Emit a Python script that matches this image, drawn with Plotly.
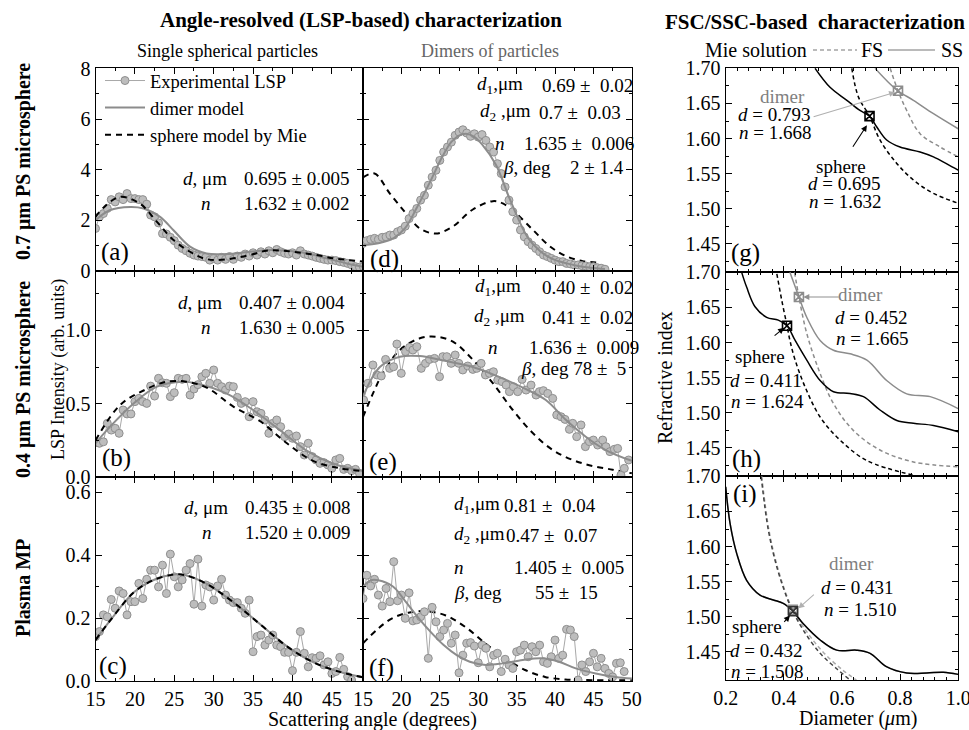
import plotly.graph_objects as go

FONT = "Liberation Serif"
W, H = 969, 730

# ---------------- data ----------------
ANGLES = [15.0, 15.5, 16.0, 16.5, 17.0, 17.5, 18.0, 18.5, 19.0, 19.5, 20.0, 20.5, 21.0, 21.5,
          22.0, 22.5, 23.0, 23.5, 24.0, 24.5, 25.0, 25.5, 26.0, 26.5, 27.0, 27.5, 28.0, 28.5,
          29.0, 29.5, 30.0, 30.5, 31.0, 31.5, 32.0, 32.5, 33.0, 33.5, 34.0, 34.5, 35.0, 35.5,
          36.0, 36.5, 37.0, 37.5, 38.0, 38.5, 39.0, 39.5, 40.0, 40.5, 41.0, 41.5, 42.0, 42.5,
          43.0, 43.5, 44.0, 44.5, 45.0, 45.5, 46.0, 46.5, 47.0, 47.5, 48.0, 48.5, 49.0]

# (a) 0.7 um PS, single sphere
A_EXP = [1.68, 2.14, 2.27, 2.47, 2.82, 2.73, 2.93, 2.82, 3.06, 2.86, 2.86, 2.82, 2.82, 2.64,
         2.21, 2.14, 1.90, 1.48, 1.46, 1.33, 1.20, 1.02, 0.89, 0.80, 0.70, 0.63, 0.59, 0.57,
         0.54, 0.43, 0.50, 0.43, 0.54, 0.46, 0.57, 0.46, 0.59, 0.54, 0.67, 0.59, 0.72, 0.63,
         0.76, 0.67, 0.80, 0.72, 0.85, 0.76, 0.70, 0.67, 0.72, 0.63, 0.80, 0.67, 0.63, 0.59,
         0.54, 0.50, 0.46, 0.43, 0.43, 0.41, 0.37, 0.34, 0.30, 0.24, 0.17, 0.15, 0.17]
A_DIM_X = [15.0, 16.8, 19.4, 21.1, 23.2, 24.9, 27.0, 29.1, 31.6, 34.6, 37.2, 39.3, 41.8, 44.3, 46.9, 48.95]
A_DIM_Y = [2.00, 2.40, 2.53, 2.47, 2.14, 1.61, 0.96, 0.69, 0.67, 0.76, 0.83, 0.80, 0.70, 0.50, 0.30, 0.17]
A_MIE_X = [15.0, 16.0, 18.1, 20.6, 22.8, 24.9, 27.0, 28.7, 30.4, 32.5, 34.6, 36.7, 38.8, 41.0, 43.1, 45.2, 47.3, 48.95]
A_MIE_Y = [2.14, 2.50, 2.93, 2.67, 1.94, 1.22, 0.76, 0.50, 0.43, 0.50, 0.63, 0.80, 0.80, 0.72, 0.63, 0.50, 0.43, 0.37]

# (b) 0.4 um PS, single sphere
B_EXP = [0.234, 0.23, 0.24, 0.366, 0.32, 0.332, 0.298, 0.457, 0.43, 0.43, 0.514, 0.536, 0.514,
         0.502, 0.62, 0.552, 0.673, 0.643, 0.639, 0.548, 0.575, 0.673, 0.666, 0.673, 0.559,
         0.60, 0.63, 0.684, 0.707, 0.639, 0.730, 0.639, 0.616, 0.593, 0.62, 0.616, 0.543,
         0.502, 0.514, 0.411, 0.514, 0.445, 0.434, 0.389, 0.298, 0.366, 0.389, 0.343, 0.275,
         0.293, 0.264, 0.28, 0.207, 0.150, 0.23, 0.139, 0.116, 0.093, 0.098, 0.082, 0.059,
         0.116, 0.127, 0.052, 0.059, 0.043, 0.052, 0.025]
B_DIM_X = [15.0, 16.8, 19.8, 22.8, 26.1, 27.7, 31.6, 35.0, 38.4, 41.8, 45.2, 48.95]
B_DIM_Y = [0.23, 0.34, 0.50, 0.616, 0.65, 0.64, 0.57, 0.457, 0.32, 0.18, 0.09, 0.04]
B_MIE_X = [15.0, 18.1, 21.1, 24.0, 26.5, 29.1, 32.5, 35.9, 39.3, 42.6, 46.0, 48.95]
B_MIE_Y = [0.25, 0.49, 0.59, 0.65, 0.65, 0.61, 0.48, 0.38, 0.23, 0.11, 0.06, 0.04]

# (c) plasma MP, single sphere
C_EXP = [0.141, 0.157, 0.210, 0.204, 0.259, 0.231, 0.286, 0.278, 0.210, 0.252, 0.252, 0.310,
         0.262, 0.323, 0.352, 0.352, 0.299, 0.368, 0.278, 0.403, 0.331, 0.299, 0.321, 0.352,
         0.373, 0.244, 0.387, 0.238, 0.305, 0.299, 0.257, 0.302, 0.323, 0.273, 0.257, 0.249,
         0.249, 0.231, 0.215, 0.257, 0.093, 0.141, 0.146, 0.114, 0.130, 0.146, 0.114, 0.109,
         0.091, 0.091, 0.033, 0.091, 0.157, 0.088, 0.045, 0.074, 0.072, 0.080, 0.051, 0.061,
         0.024, 0.030, 0.075, 0.037, 0.014, 0.003]
C_MOD_X = [15.0, 16.8, 19.8, 22.3, 24.9, 26.4, 29.0, 32.5, 35.9, 39.3, 42.6, 46.0, 48.95]
C_MOD_Y = [0.13, 0.19, 0.28, 0.32, 0.338, 0.336, 0.31, 0.25, 0.18, 0.11, 0.06, 0.029, 0.012]

# (d) 0.7 um PS, dimer
D_EXP = [1.09, 1.20, 1.25, 1.29, 1.25, 1.33, 1.35, 1.42, 1.42, 1.55, 1.62, 1.77, 2.07, 2.27,
         2.47, 2.80, 2.99, 3.39, 3.71, 3.98, 4.37, 4.70, 4.90, 5.09, 5.36, 5.49, 5.58, 5.45,
         5.32, 5.42, 5.29, 5.39, 5.16, 4.90, 4.70, 4.24, 3.85, 3.32, 2.80, 2.34, 2.01, 1.62,
         1.35, 1.16, 1.02, 0.89, 0.76, 0.63, 0.57, 0.50, 0.43, 0.37, 0.37, 0.30, 0.28, 0.24,
         0.24, 0.21, 0.20, 0.17, 0.17, 0.13, 0.11, 0.07]
D_DIM_X = [15.0, 17.0, 19.0, 20.5, 22.0, 23.7, 25.3, 26.5, 27.5, 28.4, 29.5, 30.5, 32.3, 33.9,
           35.3, 36.5, 38.0, 39.5, 41.5, 43.0, 45.0, 46.5]
D_DIM_Y = [1.03, 1.10, 1.30, 1.70, 2.50, 3.50, 4.50, 5.10, 5.35, 5.42, 5.30, 5.00, 4.20, 3.00,
           2.00, 1.30, 0.80, 0.50, 0.30, 0.20, 0.12, 0.08]
D_MIE_X = [15.0, 16.5, 18.5, 20.6, 22.4, 24.5, 26.7, 29.3, 31.9, 33.2, 34.9, 37.1, 39.3, 41.4, 43.6, 45.8]
D_MIE_Y = [3.70, 3.85, 3.06, 2.28, 1.68, 1.48, 1.76, 2.43, 2.76, 2.67, 2.28, 1.63, 0.98, 0.59, 0.39, 0.33]

# (e) 0.4 um PS, dimer
E_ANG = [15.08, 15.64, 16.29, 16.81, 17.38, 17.94, 18.46, 18.98, 19.41, 19.98, 20.54, 21.06,
         21.49, 22.01, 22.58, 23.14, 23.66, 24.31, 24.96, 25.39, 25.91, 26.48, 27.00, 27.47,
         27.99, 28.64, 29.30, 29.81, 30.38, 30.94, 31.46, 31.98, 32.54, 33.11, 33.63, 34.06,
         34.58, 35.14, 35.71, 36.23, 36.88, 37.53, 37.96, 38.48, 39.05, 39.70, 40.22, 40.78,
         41.30, 41.87, 42.30, 42.82, 43.38, 43.95, 44.47, 44.99, 45.55, 46.20, 46.63, 47.15,
         47.72, 48.15, 48.58, 49.02, 49.58]
E_EXP = [0.525, 0.639, 0.764, 0.696, 0.689, 0.802, 0.741, 0.752, 0.907, 0.707, 0.855, 0.884,
         0.866, 0.889, 0.741, 0.775, 0.802, 0.809, 0.684, 0.821, 0.821, 0.775, 0.832, 0.775,
         0.730, 0.757, 0.734, 0.741, 0.775, 0.696, 0.707, 0.718, 0.661, 0.650, 0.627, 0.582,
         0.616, 0.582, 0.666, 0.593, 0.627, 0.559, 0.582, 0.589, 0.570, 0.536, 0.423, 0.411,
         0.393, 0.325, 0.366, 0.275, 0.355, 0.207, 0.241, 0.252, 0.218, 0.252, 0.207, 0.173,
         0.189, 0.195, 0.013, 0.059, 0.116]
E_DIM_X = [15.0, 17.2, 19.8, 22.4, 25.0, 29.3, 31.9, 35.8, 38.8, 41.4, 44.0, 46.6, 50.0]
E_DIM_Y = [0.55, 0.75, 0.82, 0.825, 0.80, 0.75, 0.70, 0.61, 0.525, 0.39, 0.275, 0.184, 0.11]
E_MIE_X = [15.0, 16.3, 17.6, 19.8, 22.4, 24.5, 26.7, 29.3, 31.9, 34.5, 37.1, 39.7, 42.3, 44.9, 47.5, 50.0]
E_MIE_Y = [0.41, 0.57, 0.71, 0.866, 0.946, 0.957, 0.923, 0.80, 0.64, 0.457, 0.30, 0.184, 0.116, 0.075, 0.05, 0.025]

# (f) plasma MP, dimer
F_EXP = [0.262, 0.336, 0.302, 0.323, 0.273, 0.238, 0.294, 0.252, 0.379, 0.255, 0.273, 0.199,
         0.280, 0.191, 0.194, 0.204, 0.220, 0.072, 0.234, 0.188, 0.141, 0.162, 0.183, 0.120,
         0.146, 0.026, 0.082, 0.120, 0.122, 0.111, 0.058, 0.114, 0.104, 0.045, 0.082, 0.088,
         0.030, 0.069, 0.051, 0.040, 0.093, 0.098, 0.114, 0.077, 0.109, 0.093, 0.114, 0.061,
         0.056, 0.077, 0.130, 0.072, 0.082, 0.164, 0.162, 0.141, 0.003, 0.051, 0.030, 0.061,
         0.088, 0.045, 0.072, 0.040, 0.024, 0.013, 0.056, 0.058, 0.030]
F_DIM_X = [15.0, 16.0, 17.0, 18.9, 20.4, 22.1, 23.8, 25.5, 27.2, 28.9, 31.0, 33.2, 35.8, 38.3,
           40.5, 42.7, 45.3, 47.9, 50.0]
F_DIM_Y = [0.299, 0.32, 0.32, 0.30, 0.257, 0.204, 0.156, 0.114, 0.082, 0.061, 0.051, 0.056,
           0.067, 0.072, 0.061, 0.040, 0.024, 0.013, 0.008]
F_MIE_X = [15.0, 17.0, 18.8, 20.9, 23.1, 25.7, 28.3, 30.9, 33.5, 36.1, 38.7, 41.3, 43.9, 50.0]
F_MIE_Y = [0.120, 0.167, 0.199, 0.217, 0.222, 0.209, 0.172, 0.120, 0.072, 0.035, 0.013, 0.005, 0.003, 0.002]

# (g) FSC/SSC 0.7 um
G_SPH_SS_D = [0.5075, 0.559, 0.617, 0.662, 0.695, 0.720, 0.754, 0.800, 0.869, 0.915, 0.961, 1.0]
G_SPH_SS_N = [1.700, 1.673, 1.6545, 1.640, 1.632, 1.6165, 1.598, 1.588, 1.581, 1.574, 1.564, 1.555]
G_SPH_FS_D = [0.634, 0.657, 0.695, 0.731, 0.788, 0.846, 0.915, 1.0]
G_SPH_FS_N = [1.700, 1.659, 1.632, 1.598, 1.565, 1.541, 1.522, 1.508]
G_DIM_SS_D = [0.714, 0.753, 0.793, 0.846, 0.915, 1.0]
G_DIM_SS_N = [1.700, 1.683, 1.668, 1.6545, 1.6355, 1.614]
G_DIM_FS_D = [0.766, 0.793, 0.823, 0.869, 0.938, 1.0]
G_DIM_FS_N = [1.700, 1.668, 1.640, 1.607, 1.588, 1.574]
G_SPH_PT = (0.695, 1.632)
G_DIM_PT = (0.793, 1.668)

# (h) FSC/SSC 0.4 um
H_SPH_SS_D = [0.255, 0.272, 0.301, 0.341, 0.381, 0.411, 0.439, 0.479, 0.525, 0.571, 0.628,
              0.674, 0.731, 0.789, 0.846, 0.915, 1.0]
H_SPH_SS_N = [1.700, 1.679, 1.651, 1.636, 1.632, 1.624, 1.603, 1.575, 1.546, 1.530, 1.5275,
              1.523, 1.504, 1.489, 1.485, 1.482, 1.473]
H_SPH_FS_D = [0.376, 0.393, 0.411, 0.421, 0.439, 0.473, 0.525, 0.594, 0.686, 0.846]
H_SPH_FS_N = [1.698, 1.660, 1.624, 1.603, 1.575, 1.537, 1.494, 1.461, 1.432, 1.411]
H_DIM_SS_D = [0.421, 0.452, 0.479, 0.525, 0.571, 0.628, 0.686, 0.754, 0.823, 0.904, 1.0]
H_DIM_SS_N = [1.700, 1.665, 1.636, 1.603, 1.589, 1.584, 1.575, 1.546, 1.527, 1.523, 1.506]
H_DIM_FS_D = [0.437, 0.452, 0.479, 0.525, 0.571, 0.639, 0.731, 0.846, 1.0]
H_DIM_FS_N = [1.700, 1.665, 1.613, 1.556, 1.513, 1.475, 1.447, 1.430, 1.423]
H_SPH_PT = (0.411, 1.624)
H_DIM_PT = (0.452, 1.665)

# (i) FSC/SSC plasma MP
I_SS_D = [0.2, 0.215, 0.238, 0.272, 0.318, 0.364, 0.398, 0.431, 0.467, 0.525, 0.582, 0.651,
          0.697, 0.753, 0.823, 0.892, 0.949, 1.0]
I_SS_N = [1.685, 1.633, 1.590, 1.552, 1.531, 1.524, 1.519, 1.508, 1.490, 1.467, 1.4525,
          1.4525, 1.448, 1.429, 1.420, 1.420, 1.421, 1.418]
I_SPH_FS_D = [0.322, 0.347, 0.376, 0.410, 0.431, 0.467, 0.525, 0.582, 0.628]
I_SPH_FS_N = [1.700, 1.623, 1.571, 1.528, 1.508, 1.481, 1.448, 1.426, 1.410]
I_DIM_FS_D = [0.324, 0.349, 0.378, 0.411, 0.431, 0.470, 0.530, 0.600, 0.650]
I_DIM_FS_N = [1.700, 1.623, 1.571, 1.529, 1.510, 1.484, 1.452, 1.425, 1.410]
I_SPH_PT = (0.432, 1.508)
I_DIM_PT = (0.431, 1.510)

# ---------------- styling ----------------
GRAY = "#8c8c8c"
MK_FILL = "#bdbdbd"
MK_LINE = "#8f8f8f"
CONN = "#a8a8a8"


def px(x):
    return x / W


def py(y):
    return 1 - y / H


fig = go.Figure()


def add_exp(xs, ys, ax, legend=False):
    n = min(len(xs), len(ys))
    fig.add_trace(go.Scatter(
        x=xs[:n], y=ys[:n], mode="lines+markers", name="Experimental LSP",
        showlegend=legend, xaxis="x" + ax, yaxis="y" + ax,
        line=dict(color=CONN, width=1),
        marker=dict(symbol="circle", size=8, color=MK_FILL, line=dict(color=MK_LINE, width=1))))


def add_dim(xs, ys, ax, legend=False):
    fig.add_trace(go.Scatter(
        x=xs, y=ys, mode="lines", name="dimer model", showlegend=legend,
        xaxis="x" + ax, yaxis="y" + ax, line=dict(color=GRAY, width=2, shape="spline")))


def add_mie(xs, ys, ax, legend=False):
    fig.add_trace(go.Scatter(
        x=xs, y=ys, mode="lines", name="sphere model by Mie", showlegend=legend,
        xaxis="x" + ax, yaxis="y" + ax,
        line=dict(color="black", width=2, dash="6px,5px", shape="spline")))


# (a)
add_exp(ANGLES, A_EXP, "", True)
add_dim(A_DIM_X, A_DIM_Y, "", True)
add_mie(A_MIE_X, A_MIE_Y, "", True)
# (b)
add_exp(ANGLES, B_EXP, "2")
add_dim(B_DIM_X, B_DIM_Y, "2")
add_mie(B_MIE_X, B_MIE_Y, "2")
# (c)
add_exp(ANGLES, C_EXP, "3")
add_dim(C_MOD_X, C_MOD_Y, "3")
add_mie(C_MOD_X, C_MOD_Y, "3")
# (d)
add_mie(D_MIE_X, D_MIE_Y, "4")
add_exp(ANGLES, D_EXP, "4")
add_dim(D_DIM_X, D_DIM_Y, "4")
# (e)
add_mie(E_MIE_X, E_MIE_Y, "5")
add_exp(E_ANG, E_EXP, "5")
add_dim(E_DIM_X, E_DIM_Y, "5")
# (f)
add_mie(F_MIE_X, F_MIE_Y, "6")
add_exp(ANGLES, F_EXP, "6")
add_dim(F_DIM_X, F_DIM_Y, "6")


def rline(xs, ys, ax, color, dashed):
    fig.add_trace(go.Scatter(
        x=xs, y=ys, mode="lines", showlegend=False, xaxis="x" + ax, yaxis="y" + ax,
        line=dict(color=color, width=1.5, dash="4px,3px" if dashed else "solid", shape="spline")))


def rpt(pt, ax, color):
    fig.add_trace(go.Scatter(
        x=[pt[0]], y=[pt[1]], mode="markers", showlegend=False, xaxis="x" + ax, yaxis="y" + ax,
        marker=dict(symbol="square-x-open", size=9, color=color, line=dict(color=color, width=1.6))))


# (g)
rline(G_DIM_FS_D, G_DIM_FS_N, "7", GRAY, True)
rline(G_DIM_SS_D, G_DIM_SS_N, "7", GRAY, False)
rline(G_SPH_FS_D, G_SPH_FS_N, "7", "black", True)
rline(G_SPH_SS_D, G_SPH_SS_N, "7", "black", False)
rpt(G_DIM_PT, "7", GRAY)
rpt(G_SPH_PT, "7", "black")
# (h)
rline(H_DIM_FS_D, H_DIM_FS_N, "8", GRAY, True)
rline(H_DIM_SS_D, H_DIM_SS_N, "8", GRAY, False)
rline(H_SPH_FS_D, H_SPH_FS_N, "8", "black", True)
rline(H_SPH_SS_D, H_SPH_SS_N, "8", "black", False)
rpt(H_DIM_PT, "8", GRAY)
rpt(H_SPH_PT, "8", "black")
# (i)
rline(I_DIM_FS_D, I_DIM_FS_N, "9", "#aaaaaa", True)
rline(I_SPH_FS_D, I_SPH_FS_N, "9", "#444444", True)
rline(I_SS_D, I_SS_N, "9", "#aaaaaa", False)
rline(I_SS_D, I_SS_N, "9", "black", False)
rpt(I_DIM_PT, "9", GRAY)
rpt(I_SPH_PT, "9", "#333333")

# ---------------- axes ----------------
XL = [95.5 / W, 363 / W]
XM = [363 / W, 632 / W]
XR = [725.7 / W, 958.3 / W]
R1 = [py(271), py(68)]
R2 = [py(477), py(271)]
R3 = [py(681), py(477)]
RG = [py(272), py(68)]
RH = [py(476), py(272)]
RI = [py(680), py(476)]


def axis(domain, rng, dtick, tick0, minor, labels, anchor, fmt=None):
    d = dict(domain=domain, range=rng, anchor=anchor, showline=True, linecolor="black",
             linewidth=1.2, mirror="allticks", ticks="inside", ticklen=6, tickwidth=1,
             tickcolor="black", dtick=dtick, tick0=tick0,
             minor=dict(dtick=minor, tick0=tick0, ticklen=3, ticks="inside", tickcolor="black", tickwidth=1),
             showticklabels=labels, showgrid=False, zeroline=False, automargin=False,
             ticklabeloverflow="allow",
             tickfont=dict(size=20, family=FONT, color="black"), ticklabelstandoff=0)
    if fmt:
        d["tickformat"] = fmt
    return d


LX = [15, 48.95]
MX = [15, 50.02]
RX = [0.2, 1.0005]
RY = [1.41, 1.7005]

layout_axes = dict(
    xaxis=axis(XL, LX, 5, 15, 2.5, False, "y"),
    yaxis=axis(R1, [0, 8.02], 2, 0, 1, True, "x"),
    xaxis2=axis(XL, LX, 5, 15, 2.5, False, "y2"),
    yaxis2=axis(R2, [0, 1.405], 0.5, 0, 0.25, True, "x2", ".1f"),
    xaxis3=axis(XL, LX, 5, 15, 2.5, True, "y3"),
    yaxis3=axis(R3, [0, 0.648], 0.2, 0, 0.1, True, "x3", ".1f"),
    xaxis4=axis(XM, MX, 5, 15, 2.5, False, "y4"),
    yaxis4=axis(R1, [0, 8.02], 2, 0, 1, False, "x4"),
    xaxis5=axis(XM, MX, 5, 15, 2.5, False, "y5"),
    yaxis5=axis(R2, [0, 1.405], 0.5, 0, 0.25, False, "x5"),
    xaxis6=axis(XM, MX, 5, 15, 2.5, True, "y6"),
    yaxis6=axis(R3, [0, 0.648], 0.2, 0, 0.1, False, "x6"),
    xaxis7=axis(XR, RX, 0.2, 0.2, 0.04, False, "y7"),
    yaxis7=axis(RG, RY, 0.05, 1.45, 0.025, True, "x7", ".2f"),
    xaxis8=axis(XR, RX, 0.2, 0.2, 0.04, False, "y8"),
    yaxis8=axis(RH, RY, 0.05, 1.45, 0.025, True, "x8", ".2f"),
    xaxis9=axis(XR, RX, 0.2, 0.2, 0.04, True, "y9", ".1f"),
    yaxis9=axis(RI, RY, 0.05, 1.45, 0.025, True, "x9", ".2f"),
)

# ---------------- annotations ----------------
ann = []


def txt(x, y, s, size=19, color="black", xanchor="center", bold=False, angle=0):
    if bold:
        s = "<b>" + s + "</b>"
    ann.append(dict(x=px(x), y=py(y), xref="paper", yref="paper", text=s, showarrow=False,
                    xanchor=xanchor, yanchor="middle", textangle=angle,
                    font=dict(family=FONT, size=size, color=color)))


# titles
txt(361, 20, "Angle-resolved (LSP-based) characterization", 21, bold=True)
txt(815, 22, "FSC/SSC-based\u00a0 characterization", 21, bold=True)
txt(227, 51, "Single spherical particles", 18)
txt(490, 51, "Dimers of particles", 18, color="#666666")
txt(756, 50, "Mie solution", 20)
txt(872, 50, "FS", 20)
txt(952, 50, "SS", 20)
# row labels and axis titles
txt(24, 162, "0.7 μm PS microsphere", 20, bold=True, angle=-90)
txt(23, 380, "0.4 μm PS microsphere", 20, bold=True, angle=-90)
txt(23, 588, "Plasma MP", 20, bold=True, angle=-90)
txt(58, 370, "LSP Intensity (arb. units)", 18, angle=-90)
txt(665, 378, "Refractive index", 20, angle=-90)
txt(372, 719, "Scattering angle (degrees)", 20)
txt(858, 718, "Diameter (<i>μ</i>m)", 20)
# panel letters
for lab, (x, y) in zip(["(a)", "(b)", "(c)", "(d)", "(e)", "(f)", "(g)", "(h)", "(i)"],
                       [(115, 252), (116, 458), (113, 666), (384, 259), (383, 462), (381, 668),
                        (745, 253), (746, 459), (745, 494)]):
    txt(x, y, lab, 25)

# parameters, single sphere panels
txt(205, 178, "<i>d</i>, μm")
txt(242, 178, "0.695 ± 0.005", xanchor="left")
txt(206, 203, "<i>n</i>")
txt(242, 203, "1.632 ± 0.002", xanchor="left")
txt(200, 302, "<i>d</i>, μm")
txt(237, 302, "0.407 ± 0.004", xanchor="left")
txt(206, 328, "<i>n</i>")
txt(237, 328, "1.630 ± 0.005", xanchor="left")
txt(206, 507, "<i>d</i>, μm")
txt(243, 507, "0.435 ± 0.008", xanchor="left")
txt(207, 532, "<i>n</i>")
txt(243, 532, "1.520 ± 0.009", xanchor="left")
# parameters, dimer panels
txt(525, 85, "<i>d</i><sub>1</sub>,μm", xanchor="right")
txt(540, 85, "0.69 ±\u00a0 0.02", xanchor="left")
txt(533, 112, "<i>d</i><sub>2</sub> ,μm", xanchor="right")
txt(537, 112, "0.7 ±\u00a0 0.03", xanchor="left")
txt(500, 143, "<i>n</i>")
txt(522, 143, "1.635 ±\u00a0 0.006", xanchor="left")
txt(553, 168, "<i>β</i>, deg", xanchor="right")
txt(568, 168, "2 ± 1.4", xanchor="left")

txt(523, 287, "<i>d</i><sub>1</sub>,μm", xanchor="right")
txt(540, 287, "0.40 ±\u00a0 0.02", xanchor="left")
txt(527, 317, "<i>d</i><sub>2</sub> ,μm", xanchor="right")
txt(540, 317, "0.41 ±\u00a0 0.02", xanchor="left")
txt(493, 347, "<i>n</i>")
txt(527, 347, "1.636 ±\u00a0 0.009", xanchor="left")
txt(628, 368, "<i>β</i>, deg 78 ±\u00a0 5", xanchor="right")

txt(452, 505, "<i>d</i><sub>1</sub>,μm", xanchor="left")
txt(502, 505, "0.81 ±\u00a0 0.04", xanchor="left")
txt(452, 535, "<i>d</i><sub>2</sub> ,μm", xanchor="left")
txt(504, 535, "0.47 ±\u00a0 0.07", xanchor="left")
txt(452, 567, "<i>n</i>", xanchor="left")
txt(512, 567, "1.405 ±\u00a0 0.005", xanchor="left")
txt(452, 592, "<i>β</i>, deg", xanchor="left")
txt(533, 592, "55 ±\u00a0 15", xanchor="left")

# right column texts
DG = "#808080"
txt(782, 97, "dimer", color=DG)
txt(774, 115, "<i>d</i> = 0.793")
txt(775, 133, "<i>n</i> = 1.668")
txt(841, 166, "sphere")
txt(844, 183, "<i>d</i> = 0.695")
txt(845, 202, "<i>n</i> = 1.632")

txt(860, 294, "dimer", color=DG)
txt(871, 317, "<i>d</i> = 0.452")
txt(872, 338, "<i>n</i> = 1.665")
txt(760, 356, "sphere")
txt(766, 380, "<i>d</i> = 0.411")
txt(767, 401, "<i>n</i> = 1.624")

txt(851, 563, "dimer", color=DG)
txt(857, 587, "<i>d</i> = 0.431")
txt(860, 609, "<i>n</i> = 1.510")
txt(757, 626, "sphere")
txt(766, 650, "<i>d</i> = 0.432")
txt(767, 671, "<i>n</i> = 1.508")


def arrow(ax, x, y, tx, ty, color):
    ann.append(dict(x=x, y=y, xref="x" + ax, yref="y" + ax, ax=tx, ay=ty, text="",
                    showarrow=True, arrowhead=2, arrowsize=1.1, arrowwidth=1.1, arrowcolor=color))


arrow("7", 0.783, 1.666, -83, 25, "#b0b0b0")
arrow("7", 0.686, 1.619, -15, 23, "black")
arrow("8", 0.467, 1.665, 37, 0, "#909090")
arrow("8", 0.401, 1.621, -11, 9, "black")
arrow("9", 0.450, 1.512, 17, -15, "#b0b0b0")
arrow("9", 0.421, 1.502, -7, 8, "black")

shapes = [
    dict(type="line", xref="paper", yref="paper", x0=px(813), x1=px(857), y0=py(50), y1=py(50),
         line=dict(color="#777777", width=1.2, dash="4px,3px")),
    dict(type="line", xref="paper", yref="paper", x0=px(888), x1=px(935), y0=py(50), y1=py(50),
         line=dict(color="#777777", width=1.2)),
]

fig.update_layout(
    width=W, height=H, margin=dict(l=0, r=0, t=0, b=0, pad=0, autoexpand=False),
    paper_bgcolor="white", plot_bgcolor="white",
    font=dict(family=FONT, color="black"),
    showlegend=True,
    legend=dict(x=px(100), y=py(62), xanchor="left", yanchor="top",
                font=dict(family=FONT, size=18.5, color="black"),
                bgcolor="rgba(0,0,0,0)", itemwidth=40, tracegroupgap=0, traceorder="normal"),
    annotations=ann, shapes=shapes,
    **layout_axes,
)

fig.write_html("out.html")
